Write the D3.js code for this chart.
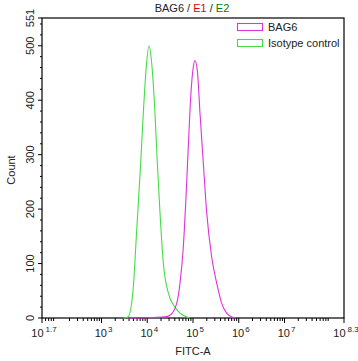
<!DOCTYPE html>
<html><head><meta charset="utf-8">
<script src="https://cdn.jsdelivr.net/npm/d3@7"></script>
<style>body{margin:0;background:#fff}svg{display:block;font-family:"Liberation Sans",Arial,sans-serif}</style>
</head><body><svg id="c" width="358" height="361"></svg>
<script>
// log10(FITC-A) and counts
const isoLog   = [3.47,3.58,3.69,3.77,3.857,3.914,3.973,4.038,4.097,4.169,4.22,4.279,4.351,4.46,4.606,4.716,4.862,4.93];
const isoCount = [0,2,51,162,285,376,455,500,468,376,285,193,101,46,20,9,2,0];
const bagLog   = [3.58,4.126,4.39,4.497,4.644,4.716,4.788,4.847,4.897,4.95,5.006,5.043,5.094,5.153,5.225,5.3,5.408,5.518,5.627,5.736,5.846,5.94];
const bagCount = [0,1,2,5,27,64,130,222,314,406,461,473,455,376,285,193,112,64,27,9,2,0];
const xTickExp = ["1.7","3","4","5","6","7","8.3"];
const yTicks = [0,100,200,300,400,500,551];
const legendLabels = ["BAG6","Isotype control"];
const colors = ["#dd33dd","#44dd44"];

const svg = d3.select("#c");
const L=42,R=344,T=18,B=318;
const x = d3.scaleLinear().domain([1.7,8.3]).range([L,R]);
const y = d3.scaleLinear().domain([0,551]).range([B,T]);

// frame
svg.append("rect").attr("x",L).attr("y",T).attr("width",R-L).attr("height",B-T)
  .attr("fill","none").attr("stroke","#000").attr("stroke-width",1.2);

// x minor ticks (log)
const xMinor=[];
for(let d=1;d<=8;d++){for(let m=2;m<=9;m++){const v=d+Math.log10(m); if(v>1.7&&v<8.3) xMinor.push(v);}}
svg.append("g").selectAll("line").data(xMinor).join("line")
  .attr("x1",d=>x(d)).attr("x2",d=>x(d)).attr("y1",B).attr("y2",B+3).attr("stroke","#000");
svg.append("g").selectAll("line").data(xTickExp).join("line")
  .attr("x1",d=>x(+d)).attr("x2",d=>x(+d)).attr("y1",B).attr("y2",B+5).attr("stroke","#000");
const xl = svg.append("g").selectAll("text").data(xTickExp).join("text")
  .attr("x",d=>x(+d)+2).attr("y",337).attr("text-anchor","middle").attr("font-size",11).attr("fill","#222");
xl.append("tspan").text("10");
xl.append("tspan").attr("dy",-5).attr("dx",d=>d.length>1?2:1).attr("font-size",8).text(d=>d);

// y ticks
const yMinor=d3.range(20,551,20).filter(v=>v%100!==0);
svg.append("g").selectAll("line").data(yMinor).join("line")
  .attr("x1",L-2).attr("x2",L).attr("y1",d=>y(d)).attr("y2",d=>y(d)).attr("stroke","#000");
svg.append("g").selectAll("line").data(yTicks).join("line")
  .attr("x1",L-4).attr("x2",L).attr("y1",d=>y(d)).attr("y2",d=>y(d)).attr("stroke","#000");
svg.append("g").selectAll("text").data(yTicks).join("text")
  .attr("transform",d=>`translate(34,${y(d)}) rotate(-90)`).attr("text-anchor","middle")
  .attr("font-size",11).attr("fill","#222").text(d=>d);

// curves
const line = d3.line().x(d=>x(d[0])).y(d=>y(d[1])).curve(d3.curveMonotoneX);
const bag = bagLog.map((v,i)=>[v,bagCount[i]]);
const iso = isoLog.map((v,i)=>[v,isoCount[i]]);
svg.append("path").attr("d",line(iso)).attr("fill","none").attr("stroke",colors[1]).attr("stroke-width",1.1);
svg.append("path").attr("d",line(bag)).attr("fill","none").attr("stroke",colors[0]).attr("stroke-width",1.1);

// title
const t = svg.append("text").attr("x",192).attr("y",12).attr("text-anchor","middle").attr("font-size",11);
t.append("tspan").attr("fill","#222").text("BAG6 / ");
t.append("tspan").attr("fill","#e00000").text("E1");
t.append("tspan").attr("fill","#222").text(" / ");
t.append("tspan").attr("fill","#008000").text("E2");

// axis titles
svg.append("text").attr("x",193).attr("y",355).attr("text-anchor","middle").attr("font-size",11).attr("fill","#222").text("FITC-A");
svg.append("text").attr("transform","translate(15,170) rotate(-90)").attr("text-anchor","middle").attr("font-size",11).attr("fill","#222").text("Count");

// legend
const lg = svg.append("g").selectAll("g").data(legendLabels).join("g")
  .attr("transform",(d,i)=>`translate(237,${23+i*16})`);
lg.append("rect").attr("x",0.5).attr("y",0.5).attr("width",25).attr("height",7)
  .attr("fill","none").attr("stroke",(d,i)=>colors[i]).attr("stroke-width",1.1);
lg.append("text").attr("x",31).attr("y",8).attr("font-size",11).attr("fill","#222").text(d=>d);
</script></body></html>
